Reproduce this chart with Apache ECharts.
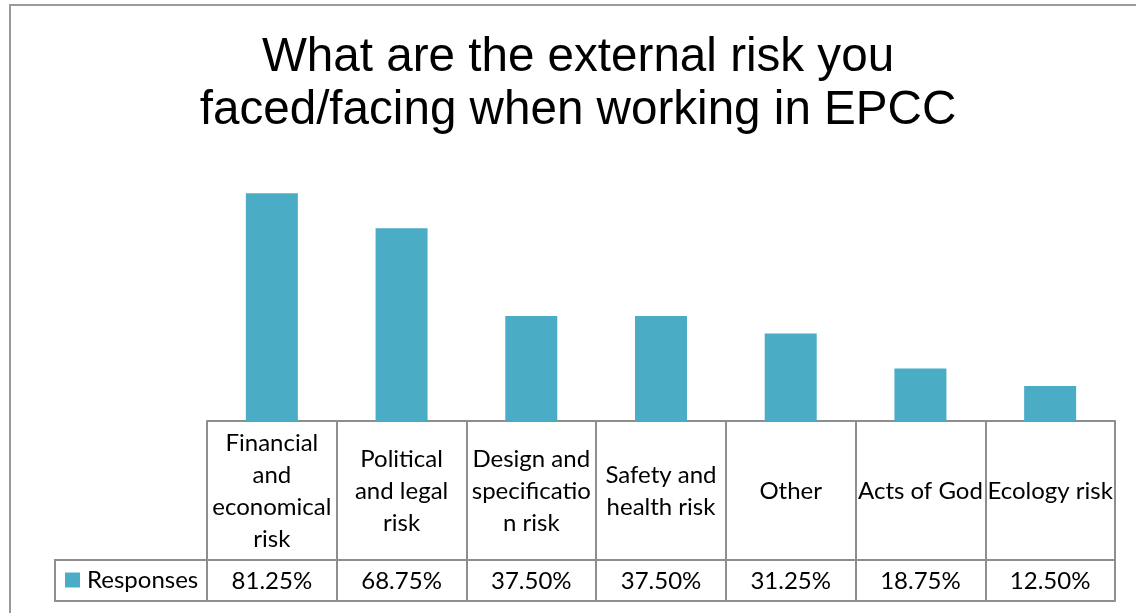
<!DOCTYPE html>
<html>
<head>
<meta charset="utf-8">
<script src="https://cdn.jsdelivr.net/npm/echarts@6/dist/echarts.min.js"></script>
<style>html,body{margin:0;padding:0;background:#fff}#c{width:1136px;height:613px}</style>
</head>
<body>
<div id="c"></div>
<script>
const categories = ['Financial\nand\neconomical\nrisk', 'Political\nand legal\nrisk', 'Design and\nspecificatio\nn risk', 'Safety and\nhealth risk', 'Other', 'Acts of God', 'Ecology risk'];
const responses = [81.25, 68.75, 37.50, 37.50, 31.25, 18.75, 12.50];
const seriesName = 'Responses';
const titleText = 'What are the external risk you\nfaced/facing when working in EPCC';

const barColor = '#4bacc6';
const lineColor = '#8e8e8e';
const tableFont = 'Lato';

const chart = echarts.init(document.getElementById('c'), null, {renderer: 'canvas'});
chart.setOption({
  animation: false,
  title: {
    text: titleText,
    left: 573,
    textAlign: 'center',
    top: 26,
    textStyle: {fontFamily: 'Liberation Sans', fontWeight: 'normal', fontSize: 47.6, lineHeight: 53, color: '#000'}
  },
  legend: {
    data: [seriesName],
    left: 60, top: 563,
    itemWidth: 15, itemHeight: 15, itemGap: 0,
    icon: 'rect',
    textStyle: {fontFamily: tableFont, fontSize: 24, color: '#000', padding: [0,0,0,2]}
  },
  grid: {left: 207, right: 21, top: 168.8, bottom: 192},
  xAxis: [
    {
      type: 'category', data: categories, position: 'bottom',
      axisLine: {show: true, lineStyle: {color: lineColor, width: 2}},
      axisTick: {show: true, interval: 0, length: 180, lineStyle: {color: lineColor, width: 2}},
      axisLabel: {interval: 0, margin: 70, verticalAlign: 'middle', fontFamily: tableFont, fontSize: 24, lineHeight: 32, color: '#000'}
    },
    {
      type: 'category', data: responses.map(v => v.toFixed(2) + '%'), position: 'bottom', offset: 139,
      axisLine: {show: true, lineStyle: {color: lineColor, width: 2}},
      axisTick: {show: false},
      axisLabel: {interval: 0, margin: 21, verticalAlign: 'middle', fontFamily: tableFont, fontSize: 24, color: '#000'}
    },
    {
      type: 'category', data: categories, position: 'bottom', offset: 180,
      axisLine: {show: true, lineStyle: {color: lineColor, width: 2}},
      axisTick: {show: false}, axisLabel: {show: false}
    }
  ],
  yAxis: {type: 'value', min: 0, max: 90, show: false, splitLine: {show: false}},
  series: [{
    name: seriesName, type: 'bar', data: responses, barWidth: 52,
    itemStyle: {color: barColor}
  }],
  graphic: [
    {type: 'rect', shape: {x: 10, y: 5, width: 1300, height: 800}, style: {fill: 'none', stroke: '#9a9a9a', lineWidth: 2}, silent: true},
    {type: 'polyline', shape: {points: [[207, 560], [55, 560], [55, 601], [207, 601]]}, style: {fill: 'none', stroke: lineColor, lineWidth: 2}, silent: true}
  ]
});
</script>
</body>
</html>
